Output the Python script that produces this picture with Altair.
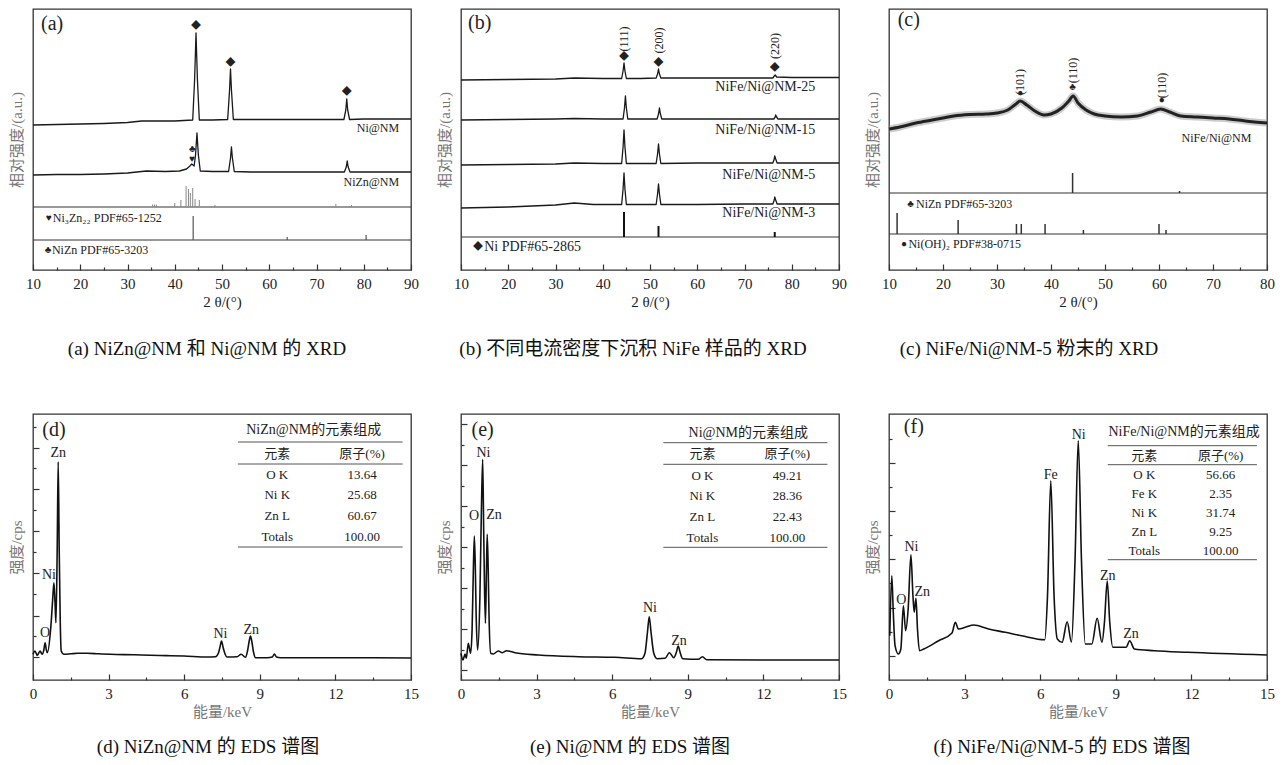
import json
import altair as alt
import pandas as pd

FONT = "Liberation Serif, Noto Sans CJK SC, serif"
W, HT, HB = 378, 261, 266

# ---------------- (a) XRD NiZn@NM / Ni@NM ----------------
a_ni_x = [10, 15, 20, 25, 30, 33, 36, 40, 43.8, 44.2, 44.5, 44.8, 45.2, 48, 51.2, 51.6, 51.8, 52.0, 52.4, 56, 60, 65, 70, 75.8, 76.2, 76.4, 76.6, 77.0, 80, 85, 90]
a_ni_y = [145, 145.5, 146, 146.5, 147.5, 149, 149, 149, 150, 190, 237, 190, 150, 150, 150.5, 180, 201, 180, 150.5, 150.5, 150.5, 150.5, 150.5, 150.5, 160, 171, 160, 150.5, 151, 151, 151]
a_nizn_x = [10, 15, 20, 25, 30, 34, 38, 41, 42.5, 43.2, 43.6, 44.1, 44.4, 44.7, 45.0, 45.4, 48, 51.4, 51.8, 52.0, 52.2, 52.6, 56, 60, 65, 70, 75.9, 76.3, 76.5, 76.7, 77.1, 80, 85, 90]
a_nizn_y = [95, 95.5, 95.5, 96, 97, 99, 98.5, 99, 101, 104, 106, 104, 115, 137, 115, 99, 98.5, 98.5, 112, 123, 112, 98.5, 98, 98, 98, 98, 98, 103, 109, 103, 98, 98, 98, 98]
a_st1_x = [35.3, 35.7, 36.1, 40.0, 41.3, 42.4, 42.9, 43.3, 43.8, 44.3, 45.2, 48.5, 74.1, 77.4]
a_st1_t = [65.5, 65.5, 65.5, 67, 70, 84, 81, 77, 82, 71, 70, 65, 66, 65]
a_st1_base = 63
a_st2_x = [43.9, 63.8, 80.5]
a_st2_t = [54, 33, 35]
a_st2_base = 30
a_sep = [63, 30]
a_names = ["Ni@NM", "NiZn@NM"]
a_names_x = [87.5, 87.5]
a_names_y = [142, 88]
a_refs = ["Ni\u2083Zn\u2082\u2082 PDF#65-1252", "NiZn PDF#65-3203"]
a_refs_x = [14.2, 14.0]
a_refs_y = [52, 20]
a_marks = ["\u25c6", "\u25c6", "\u25c6", "\u2663", "\u2665", "\u2665", "\u2663"]
a_marks_x = [44.5, 51.8, 76.4, 43.7, 43.7, 13.4, 13.2]
a_marks_y = [244, 207, 178, 121, 111, 52, 20]

# ---------------- (b) XRD NiFe series ----------------
b_x25 = [10, 20, 30, 34, 40, 44.0, 44.3, 44.5, 44.7, 45.0, 48, 51.3, 51.6, 51.8, 52.0, 52.3, 56, 60, 70, 76.0, 76.3, 76.5, 76.8, 80, 90]
b_y25 = [190, 190.5, 191, 192, 191.5, 191.5, 199, 207, 199, 191.5, 191.5, 192, 196, 201, 196, 192, 192, 192, 192, 192, 194, 195, 193, 192.5, 192.5]
b_x15 = [10, 20, 30, 34, 40, 44.3, 44.6, 44.8, 45.0, 45.3, 48, 51.5, 51.8, 52.0, 52.2, 52.5, 60, 70, 76.2, 76.5, 76.6, 76.8, 77.1, 80, 90]
b_y15 = [150, 150.5, 151, 151.5, 151, 151, 162, 174, 162, 151, 151, 151, 156, 162, 156, 151, 151, 151, 151, 153, 155, 153, 151, 151, 151]
b_x5 = [10, 20, 30, 34, 40, 44.0, 44.3, 44.5, 44.7, 45.0, 48, 51.3, 51.6, 51.8, 52.0, 52.3, 60, 70, 76.0, 76.3, 76.4, 76.6, 76.9, 80, 90]
b_y5 = [105, 105.5, 106, 107, 106.5, 106.5, 123, 140, 123, 106.5, 106.5, 106.5, 116, 126, 116, 106.5, 107, 107, 107, 111, 114, 111, 107, 107, 107]
b_x3 = [10, 20, 30, 34, 38, 40, 44.0, 44.3, 44.5, 44.7, 45.0, 48, 51.3, 51.6, 51.8, 52.0, 52.3, 60, 70, 76.0, 76.3, 76.4, 76.6, 76.9, 80, 90]
b_y3 = [62, 63, 65, 67, 65.5, 65.5, 65.5, 81, 97, 81, 65.5, 65.5, 65.5, 76, 86, 76, 65.5, 65.5, 66, 66, 70, 73, 70, 66, 66, 66]
b_st_x = [44.5, 51.8, 76.4]
b_st_t = [58, 44, 38]
b_st_base = 33
b_sep = [33]
b_names = ["NiFe/Ni@NM-25", "NiFe/Ni@NM-15", "NiFe/Ni@NM-5", "NiFe/Ni@NM-3"]
b_names_y = [183, 140, 95, 57]
b_names_x = [85.0, 85.0, 85.0, 85.0]
b_refs = ["Ni PDF#65-2865"]
b_refs_x = [14.9]
b_refs_y = [23]
b_marks = ["\u25c6", "\u25c6", "\u25c6", "\u25c6"]
b_marks_x = [44.5, 51.8, 76.4, 13.6]
b_marks_y = [213, 207, 202, 23]
b_hkl = ["(111)", "(200)", "(220)"]
b_hkl_x = [44.5, 51.8, 76.4]
b_hkl_y = [231, 229.5, 224]

# ---------------- (c) XRD powder ----------------
c_x = [10, 12, 15, 18, 20, 22, 25, 28, 30, 32, 33.5, 34.3, 35.5, 37, 38.7, 40, 42, 43.3, 44.1, 45, 46.5, 48, 50, 53, 56, 58.5, 60.3, 62, 64, 67, 70, 73, 76, 80]
c_y = [141, 143, 147, 150, 152, 154, 155.5, 156, 157, 160, 166, 169, 165, 159, 155, 156, 162, 169, 174, 167, 160, 156, 154, 153, 154, 158, 161, 158, 154, 153, 152, 151, 149, 147]
c_st1_x = [44.0, 63.8]
c_st1_t = [97, 79]
c_st1_base = 77
c_st2_x = [11.5, 22.8, 33.6, 34.5, 38.9, 46.0, 60.0, 61.3]
c_st2_t = [57, 50, 46, 46, 46, 40, 46, 40]
c_st2_base = 36
c_sep = [77, 36]
c_names = ["NiFe/Ni@NM"]
c_names_x = [77.1]
c_names_y = [132]
c_refs = ["NiZn PDF#65-3203", "Ni(OH)\u2082 PDF#38-0715"]
c_refs_x = [15.0, 13.6]
c_refs_y = [66, 26]
c_marks = ["\u25cf", "\u2663", "\u25cf", "\u2663", "\u25cf"]
c_marks_x = [34.3, 44.0, 60.5, 14.0, 12.8]
c_marks_y = [177, 183, 170, 66, 26]
c_hkl = ["(101)", "(110)", "(110)"]
c_hkl_x = [34.3, 44.0, 60.5]
c_hkl_y = [188, 199.5, 184.5]

# ---------------- (d) EDS NiZn@NM ----------------
d_x = [0, 0.08, 0.17, 0.28, 0.36, 0.43, 0.48, 0.53, 0.57, 0.70, 0.78, 0.83, 0.87, 0.91, 0.96, 1.00, 1.04, 1.08, 1.12, 1.23, 1.50, 1.76, 2.15, 2.60, 3.08, 4.0, 4.66, 5.3, 5.99, 6.91, 7.24, 7.36, 7.42, 7.48, 7.54, 7.62, 7.70, 8.10, 8.26, 8.43, 8.52, 8.58, 8.63, 8.68, 8.75, 8.83, 9.29, 9.50, 9.58, 9.66, 9.82, 11.0, 11.93, 13.5, 15]
d_y = [25.7, 29, 24.7, 29, 25.7, 30, 37.3, 30, 27.3, 50.7, 80, 97.3, 80, 57.3, 130, 218.3, 130, 60, 29, 25.7, 26.2, 26.7, 26.7, 26.2, 25.7, 25.2, 24.7, 24.4, 24, 23, 23.3, 27, 33, 39, 33, 26, 23, 23.3, 25.7, 22.7, 30, 39, 44, 39, 28, 22.3, 22.3, 23, 26, 23, 22.3, 22.3, 22.3, 22.2, 22]
d_pk = ["Zn", "Ni", "O", "Ni", "Zn"]
d_pk_x = [1.0, 0.63, 0.48, 7.44, 8.66]
d_pk_y = [227, 105, 47, 46, 50]
d_tab_title = "NiZn@NM的元素组成"
d_tab_el = ["元素", "O K", "Ni K", "Zn L", "Totals"]
d_tab_at = ["原子(%)", "13.64", "25.68", "60.67", "100.00"]
d_tab_rows_y = [226, 205, 185, 164, 143]
d_tab_cols_x = [9.69, 13.06]
d_tab_title_xy = [11.14, 250.5]
d_tab_lines_y = [238, 216, 133]
d_tab_lines_x = [8.13, 14.67]
d_ymaj = [23, 64, 107, 149, 191, 232]
d_ymin = [44, 86, 128, 170, 212, 253]

# ---------------- (e) EDS Ni@NM ----------------
e_x = [0, 0.08, 0.16, 0.21, 0.29, 0.38, 0.44, 0.49, 0.53, 0.57, 0.60, 0.66, 0.75, 0.81, 0.86, 0.90, 0.93, 0.97, 1.01, 1.04, 1.08, 1.11, 1.18, 1.28, 1.48, 1.64, 1.81, 2.14, 3.07, 4.66, 6.11, 7.17, 7.30, 7.40, 7.47, 7.54, 7.65, 7.78, 8.10, 8.27, 8.44, 8.55, 8.62, 8.69, 8.80, 9.42, 9.58, 9.75, 11.93, 15]
e_y = [26.7, 20, 26, 21.7, 36.7, 26.7, 50, 110, 144, 110, 66.7, 30, 83, 170, 220.7, 150, 96.7, 56.7, 110, 145.7, 110, 66.7, 26.7, 26, 29, 27.3, 29.3, 27.3, 25, 23.3, 22.7, 21.3, 26.7, 48, 63.3, 48, 26.7, 21.3, 21.7, 27.3, 22.3, 28, 34, 28, 21.3, 20.7, 23.3, 20.3, 20, 20]
e_pk = ["Ni", "O", "Zn", "Ni", "Zn"]
e_pk_x = [0.89, 0.52, 1.31, 7.5, 8.65]
e_pk_y = [227, 164, 165, 72, 39]
e_tab_title = "Ni@NM的元素组成"
e_tab_el = ["元素", "O K", "Ni K", "Zn L", "Totals"]
e_tab_at = ["原子(%)", "49.21", "28.36", "22.43", "100.00"]
e_tab_rows_y = [225.7, 204.3, 184, 162.7, 142.3]
e_tab_cols_x = [9.58, 12.95]
e_tab_title_xy = [11.4, 247.3]
e_tab_lines_y = [237.3, 215.7, 132.7]
e_tab_lines_x = [8.03, 14.54]
e_ymaj = [10, 51, 92, 133, 174, 215, 256]
e_ymin = [30, 71, 112, 153, 194, 235]

# ---------------- (f) EDS NiFe/Ni@NM-5 ----------------
f_x = [0.03, 0.11, 0.17, 0.24, 0.37, 0.47, 0.57, 0.66, 0.76, 0.87, 0.95, 1.00, 1.07, 1.13, 1.21, 1.38, 1.97, 2.50, 2.63, 2.76, 3.03, 3.36, 3.95, 4.61, 5.26, 6.18, 6.29, 6.42, 6.55, 6.68, 6.87, 7.07, 7.24, 7.38, 7.51, 7.64, 7.79, 8.05, 8.26, 8.45, 8.55, 8.66, 8.76, 8.88, 9.41, 9.55, 9.74, 10.53, 11.84, 15]
f_y = [44.3, 104.3, 67.7, 34.3, 26, 31, 74.3, 49.3, 71, 125.3, 84.3, 67.7, 81.7, 51, 29.3, 31, 39.3, 47, 57.7, 51, 52.7, 55, 51, 47.7, 44.3, 40.3, 84.3, 199.3, 84.3, 41, 37.7, 58.3, 37.7, 117.7, 239.3, 117.7, 36, 36, 61.7, 37.7, 57.7, 99, 57.7, 32.7, 32.7, 39.3, 31, 29.3, 27.7, 25]
f_pk = ["Fe", "Ni", "Zn", "Zn", "Ni", "O", "Zn"]
f_pk_x = [6.42, 7.53, 8.68, 9.6, 0.89, 0.49, 1.32]
f_pk_y = [205, 245, 104, 46, 133, 80, 88]
f_tab_title = "NiFe/Ni@NM的元素组成"
f_tab_el = ["元素", "O K", "Fe K", "Ni K", "Zn L", "Totals"]
f_tab_at = ["原子(%)", "56.66", "2.35", "31.74", "9.25", "100.00"]
f_tab_rows_y = [224.3, 205, 186, 167, 147.7, 129.3]
f_tab_cols_x = [10.13, 13.16]
f_tab_title_xy = [11.71, 247.7]
f_tab_lines_y = [234.3, 215.3, 120.3]
f_tab_lines_x = [8.68, 14.6]
f_ymaj = [24, 72, 121, 169, 217]
f_ymin = [48, 97, 145, 193, 241]

xrd_major = [10, 20, 30, 40, 50, 60, 70, 80, 90]
xrd_minor = [15, 25, 35, 45, 55, 65, 75, 85]
xrdc_major = [10, 20, 30, 40, 50, 60, 70, 80]
xrdc_minor = [15, 25, 35, 45, 55, 65, 75]
eds_major = [0, 3, 6, 9, 12, 15]
eds_minor = [1.5, 4.5, 7.5, 10.5, 13.5]

captions = ["(a) NiZn@NM 和 Ni@NM 的 XRD", "(b)  不同电流密度下沉积 NiFe 样品的 XRD",
            "(c) NiFe/Ni@NM-5 粉末的 XRD", "(d) NiZn@NM 的 EDS 谱图",
            "(e) Ni@NM 的 EDS 谱图", "(f) NiFe/Ni@NM-5 的 EDS 谱图"]
tags = ["(a)", "(b)", "(c)", "(d)", "(e)", "(f)"]
tags_x = [11.7, 11.5, 11.6, 0.37, 0.42, 0.59]
tags_y = [246, 247, 250, 250, 250, 252.7]


def size_cond(major, big, small):
    return {"condition": {"test": "indexof(%s, datum.value) >= 0" % json.dumps(major), "value": big},
            "value": small}


class P:
    def __init__(self, H, xdom):
        self.H = H
        self.xs = alt.Scale(domain=xdom, nice=False, zero=False)
        self.ys = alt.Scale(domain=[0, H], nice=False, zero=False)
        self.xdom = xdom
        self.layers = []

    def X(self, f):
        return alt.X(f"{f}:Q", scale=self.xs, axis=None)

    def Y(self, f):
        return alt.Y(f"{f}:Q", scale=self.ys, axis=None)

    def line(self, xs, ys, color="#1a1a1a", width=1.3, interp="linear", opacity=1.0):
        df = pd.DataFrame({"x": xs, "y": ys})
        self.layers.append(alt.Chart(df).mark_line(color=color, strokeWidth=width, interpolate=interp,
                                                   opacity=opacity, strokeJoin="round")
                           .encode(x=self.X("x"), y=self.Y("y"), order="x:Q"))

    def sticks(self, xs, tops, base, color, width):
        df = pd.DataFrame({"x": xs, "t": tops, "b": [base] * len(xs)})
        self.layers.append(alt.Chart(df).mark_rule(color=color, strokeWidth=width)
                           .encode(x=self.X("x"), y=self.Y("b"), y2="t:Q"))

    def hlines(self, ys, x0, x1, color="#333", width=1.2):
        df = pd.DataFrame({"y": ys, "x0": [x0] * len(ys), "x1": [x1] * len(ys)})
        self.layers.append(alt.Chart(df).mark_rule(color=color, strokeWidth=width)
                           .encode(x=self.X("x0"), x2="x1:Q", y=self.Y("y")))

    def text(self, texts, xs, ys, size=12, align="center", color="#222", angle=0, weight="normal"):
        df = pd.DataFrame({"x": xs, "y": ys, "t": texts})
        kw = dict(font=FONT, fontSize=size, align=align, baseline="middle", color=color, fontWeight=weight)
        if angle:
            kw["angle"] = angle
        self.layers.append(alt.Chart(df).mark_text(**kw)
                           .encode(x=self.X("x"), y=self.Y("y"), text="t:N"))

    def build(self, xmajor, xminor, xtitle, xtitle_color, ytitle, caption, cap_dx, cap_off,
              ymaj=None, ymin=None):
        anchor = pd.DataFrame({"x": [self.xdom[0]], "y": [0]})
        lab_axis = alt.Axis(orient="bottom", values=xmajor, ticks=False, domain=False, grid=False,
                            labelFont=FONT, labelFontSize=15, labelColor="#222", labelPadding=6,
                            labelFlush=False, labelOverlap=False, format="d",
                            title=xtitle, titleFont=FONT, titleFontSize=15, titleFontWeight="normal",
                            titleColor=xtitle_color, titlePadding=3)
        ytitle_axis = alt.Axis(orient="left", labels=False, ticks=False, domain=False, grid=False,
                               title=ytitle, titleFont=FONT, titleFontSize=15, titleFontWeight="normal",
                               titleColor="#777", titlePadding=9)
        tick_axis = alt.Axis(orient="top", offset=-self.H, values=sorted(xmajor + xminor), labels=False,
                             domain=False, grid=False, title="", tickColor="#333", tickWidth=1.2,
                             tickSize=size_cond(xmajor, 6, 3))
        if ymaj:
            ytick = alt.Axis(orient="right", offset=-W, values=sorted(ymaj + ymin), labels=False,
                             domain=False, grid=False, title="", tickColor="#333", tickWidth=1.2,
                             tickSize=size_cond(ymaj, 6, 3))
        else:
            ytick = None
        l1 = alt.Chart(anchor).mark_point(opacity=0).encode(
            x=alt.X("x:Q", scale=self.xs, axis=lab_axis), y=alt.Y("y:Q", scale=self.ys, axis=ytitle_axis))
        l2 = alt.Chart(anchor).mark_point(opacity=0).encode(
            x=alt.X("x:Q", scale=self.xs, axis=tick_axis), y=alt.Y("y:Q", scale=self.ys, axis=ytick))
        return (alt.layer(l1, l2, *self.layers)
                .resolve_axis(x="independent", y="independent")
                .properties(width=W, height=self.H,
                            title=alt.TitleParams(text=caption, orient="bottom", anchor="middle", dx=cap_dx,
                                                  offset=cap_off, font=FONT, fontSize=19,
                                                  fontWeight="normal", color="#111")))


XT = "2 \u03b8/(\u00b0)"
YT_XRD = "相对强度/(a.u.)"
XT_EDS = "能量/keV"
YT_EDS = "强度/cps"

# panel a
pa = P(HT, [10, 90])
pa.hlines(a_sep, 10, 90)
pa.sticks(a_st1_x, a_st1_t, a_st1_base, "#888", 1.0)
pa.sticks(a_st2_x, a_st2_t, a_st2_base, "#555", 1.2)
pa.line(a_ni_x, a_ni_y)
pa.line(a_nizn_x, a_nizn_y)
pa.text(a_names, a_names_x, a_names_y, size=12, align="right")
pa.text(a_refs, a_refs_x, a_refs_y, size=12, align="left")
pa.text(a_marks, a_marks_x, a_marks_y, size=10)
pa.text([tags[0]], [tags_x[0]], [tags_y[0]], size=20, align="left")
chart_a = pa.build(xrd_major, xrd_minor, XT, "#222", YT_XRD, captions[0], -15, 31)

# panel b
pb = P(HT, [10, 90])
pb.hlines(b_sep, 10, 90)
pb.sticks(b_st_x, b_st_t, b_st_base, "#111", 2.0)
for xs, ys in [(b_x25, b_y25), (b_x15, b_y15), (b_x5, b_y5), (b_x3, b_y3)]:
    pb.line(xs, ys)
pb.text(b_names, b_names_x, b_names_y, size=14, align="right")
pb.text(b_refs, b_refs_x, b_refs_y, size=14, align="left")
pb.text(b_marks, b_marks_x, b_marks_y, size=10)
pb.text(b_hkl, b_hkl_x, b_hkl_y, size=12, angle=270)
pb.text([tags[1]], [tags_x[1]], [tags_y[1]], size=20, align="left")
chart_b = pb.build(xrd_major, xrd_minor, XT, "#222", YT_XRD, captions[1], -17, 31)

# panel c
pc = P(HT, [10, 80])
pc.hlines(c_sep, 10, 80)
pc.sticks(c_st1_x, c_st1_t, c_st1_base, "#333", 1.5)
pc.sticks(c_st2_x, c_st2_t, c_st2_base, "#333", 1.5)
pc.line(c_x, c_y, color="#999", width=7, interp="monotone", opacity=0.5)
pc.line(c_x, c_y, color="#222", width=3, interp="monotone")
pc.text(c_names, c_names_x, c_names_y, size=12, align="right")
pc.text(c_refs, c_refs_x, c_refs_y, size=12, align="left")
pc.text(c_marks, c_marks_x, c_marks_y, size=10)
pc.text(c_hkl, c_hkl_x, c_hkl_y, size=12, angle=270)
pc.text([tags[2]], [tags_x[2]], [tags_y[2]], size=20, align="left")
chart_c = pc.build(xrdc_major, xrdc_minor, XT, "#222", YT_XRD, captions[2], -49, 31)


def eds(H, xs, ys, pk, pkx, pky, tt, txy, el, at, rows_y, cols_x, lines_y, lines_x, tag, tx, ty,
        ymaj, ymin, cap, cap_dx):
    p = P(H, [0, 15])
    p.line(xs, ys, color="#111", width=1.6, interp="monotone")
    p.text(pk, pkx, pky, size=14)
    p.text([tt], [txy[0]], [txy[1]], size=14)
    p.hlines(lines_y, lines_x[0], lines_x[1], color="#555", width=1.0)
    p.text(el, [cols_x[0]] * len(el), rows_y, size=13)
    p.text(at, [cols_x[1]] * len(at), rows_y, size=13)
    p.text([tag], [tx], [ty], size=20, align="left")
    return p.build(eds_major, eds_minor, XT_EDS, "#777", YT_EDS, cap, cap_dx, 19, ymaj, ymin)


chart_d = eds(HB, d_x, d_y, d_pk, d_pk_x, d_pk_y, d_tab_title, d_tab_title_xy, d_tab_el, d_tab_at,
              d_tab_rows_y, d_tab_cols_x, d_tab_lines_y, d_tab_lines_x, tags[3], tags_x[3], tags_y[3],
              d_ymaj, d_ymin, captions[3], -14)
chart_e = eds(HB, e_x, e_y, e_pk, e_pk_x, e_pk_y, e_tab_title, e_tab_title_xy, e_tab_el, e_tab_at,
              e_tab_rows_y, e_tab_cols_x, e_tab_lines_y, e_tab_lines_x, tags[4], tags_x[4], tags_y[4],
              e_ymaj, e_ymin, captions[4], -20)
chart_f = eds(HB, f_x, f_y, f_pk, f_pk_x, f_pk_y, f_tab_title, f_tab_title_xy, f_tab_el, f_tab_at,
              f_tab_rows_y, f_tab_cols_x, f_tab_lines_y, f_tab_lines_x, tags[5], tags_x[5], tags_y[5],
              f_ymaj, f_ymin, captions[5], -16)

chart = (alt.concat(chart_a, chart_b, chart_c, chart_d, chart_e, chart_f, columns=3,
                    spacing={"row": 144, "column": 50}, bounds="flush")
         .properties(padding={"left": 8, "top": 8, "right": 5, "bottom": 5}, background="white")
         .configure_view(stroke="#333", strokeWidth=1.3))

chart.save("out.html", embed_options={"renderer": "svg", "actions": False})
